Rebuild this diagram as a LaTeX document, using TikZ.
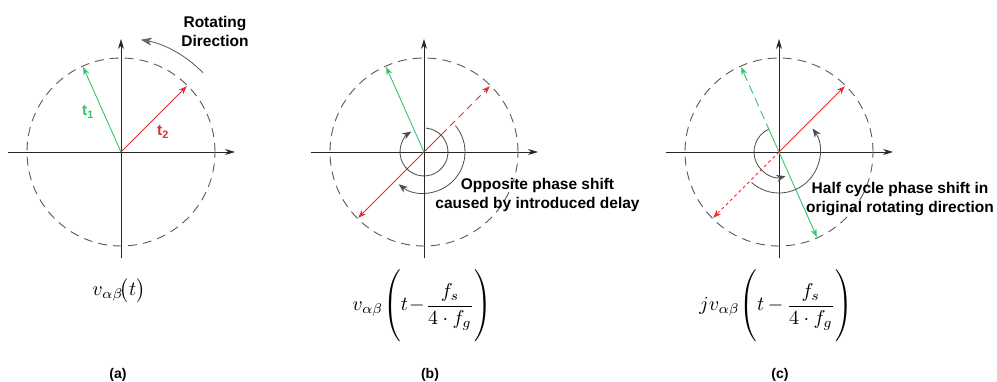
\documentclass[tikz,border=0pt]{standalone}
\usepackage{amsmath}
\usepackage{fontspec}
\newfontfamily\labfont{Liberation Sans}
\usetikzlibrary{arrows.meta,calc}
\definecolor{vgreen}{RGB}{55,195,110}
\definecolor{vred}{RGB}{225,45,45}
\newcommand{\tallpar}{\vrule height 21pt depth 16pt width 0pt}

\begin{document}
\begin{tikzpicture}[x=1pt, y=1pt,
    axisline/.style={draw=black!85, line width=0.8pt, -{Stealth[length=10pt, width=6pt]}},
    ring/.style={draw=black!65, line width=0.9pt, dash pattern=on 9pt off 6pt},
    vecg/.style={draw=vgreen, line width=0.9pt, -{Stealth[length=8pt, width=6pt]}},
    vecr/.style={draw=vred, line width=0.8pt, -{Stealth[length=8pt, width=6pt]}},
    swing/.style={draw=black!70, line width=0.8pt, -{Stealth[length=9pt, width=7pt]}},
    rot/.style={draw=black!60, line width=0.9pt, -{Stealth[length=11pt, width=8pt, inset=3pt]}},
    labl/.style={font=\labfont\bfseries\fontsize{15.5}{19}\selectfont, align=center},
    eqn/.style={scale=2},
    tag/.style={font=\labfont\bfseries\fontsize{14}{16}\selectfont}
  ]
  \useasboundingbox (0,0) rectangle (997,382);

  %% Panel centres (x-coords)
  \def\xA{121}
  \def\xB{424}
  \def\xC{779}
  \def\yO{230}
  \coordinate (oa) at (\xA,\yO);
  \coordinate (ob) at (\xB,\yO);
  \coordinate (oc) at (\xC,\yO);

  %% Axes and dashed circles
  \foreach \p in {oa, ob, oc}{
    \coordinate (\p-w) at ($(\p)+(-113,0)$);
    \coordinate (\p-e) at ($(\p)+(114,0)$);
    \coordinate (\p-s) at ($(\p)+(0,-106)$);
    \coordinate (\p-n) at ($(\p)+(0,113)$);
    \draw[axisline] (\p-w) -- (\p-e);
    \draw[axisline] (\p-s) -- (\p-n);
    \draw[ring] (\p) circle[radius=94];
  }

  %% (a) vectors at t1 and t2
  \coordinate (ga) at ($(oa)+(114:93)$);
  \coordinate (ra) at ($(oa)+(45:93)$);
  \draw[vecg] (oa) -- (ga);
  \draw[vecr] (oa) -- (ra);
  \node[labl, text=vgreen] (t1) at ($(oa)+(-33,40)$) {t\textsubscript{1}};
  \node[labl, text=vred] (t2) at ($(oa)+(42,20)$) {t\textsubscript{2}};
  \draw[rot] ($(oa)+(44:114)$) arc[start angle=44, end angle=80, radius=114];
  \node[labl] (rotdir) at (215,350.5) {Rotating\\Direction};

  %% (b) delayed vectors
  \coordinate (gb) at ($(ob)+(114:93)$);
  \coordinate (rb) at ($(ob)+(225:93)$);
  \coordinate (rb0) at ($(ob)+(45:93)$);
  \coordinate (rbm) at ($(ob)+(45:25)$);
  \draw[vecg] (ob) -- (gb);
  \draw[vecr] (rbm) -- (rb);
  \draw[vecr, dash pattern=on 7pt off 5pt] (rbm) -- (rb0);
  \draw[swing] ($(ob)+(85:24)$) arc[start angle=85, end angle=-238, radius=24];
  \draw[swing] ($(ob)+(40:41)$) arc[start angle=40, end angle=-128, radius=41];
  \node[labl] (oppnote) at (537.5,187) {Opposite phase shift\\caused by introduced delay};

  %% (c) delayed and rotated vectors
  \coordinate (gc0) at ($(oc)+(114:93)$);
  \coordinate (gcm) at ($(oc)+(114:22)$);
  \coordinate (gc) at ($(oc)+(294:93)$);
  \coordinate (rc) at ($(oc)+(45:93)$);
  \coordinate (rc0) at ($(oc)+(225:93)$);
  \draw[vecg, dash pattern=on 9pt off 5pt] (gcm) -- (gc0);
  \draw[vecg] (gcm) -- (gc);
  \draw[vecr] (oc) -- (rc);
  \draw[vecr, dash pattern=on 3pt off 3pt] (oc) -- (rc0);
  \draw[swing] ($(oc)+(115:25)$) arc[start angle=115, end angle=285, radius=25];
  \draw[swing] ($(oc)+(228:41)$) arc[start angle=228, end angle=395, radius=41];
  \node[labl] (halfnote) at (900,182.5) {Half cycle phase shift in\\original rotating direction};

  %% Formulas
  \node[eqn] (fa) at (119,91) {$v_{\alpha\beta}\!\bigl(t\bigr)$};
  \node[eqn] (fb) at (422,76)
    {$v_{\alpha\beta}\!\left(\tallpar t\mkern1mu{-}\mkern1mu\dfrac{f_s}{4\cdot f_g}\right)$};
  \node[eqn] (fc) at (776,76)
    {$jv_{\alpha\beta}\!\left(\tallpar t\mkern3mu{-}\mkern3mu\dfrac{f_s}{4\cdot f_g}\right)$};

  %% Panel tags
  \node[tag] (taga) at (118,7) {(a)};
  \node[tag] (tagb) at (430,7) {(b)};
  \node[tag] (tagc) at (780,7) {(c)};

\end{tikzpicture}
\end{document}
